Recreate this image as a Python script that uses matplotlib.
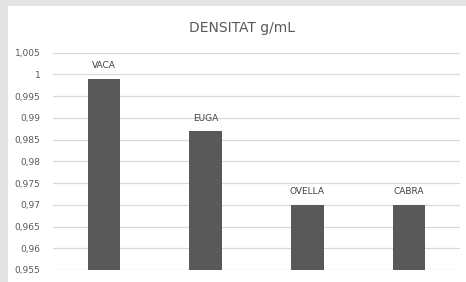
import matplotlib
matplotlib.use("Agg")
import matplotlib.pyplot as plt
from matplotlib.patches import Rectangle
from matplotlib.ticker import FuncFormatter

categories = ["VACA", "EUGA", "OVELLA", "CABRA"]
values = [0.999, 0.987, 0.970, 0.970]
yticks = [0.955, 0.96, 0.965, 0.97, 0.975, 0.98, 0.985, 0.99, 0.995, 1.0, 1.005]
title = "DENSITAT g/mL"

fig = plt.figure(figsize=(4.66, 2.82), dpi=100)
fig.patch.set_facecolor("#e3e3e3")
fig.patches.append(Rectangle((8/466, 0), 1 - 8/466, (282-6)/282, transform=fig.transFigure,
                             facecolor="white", edgecolor="none", zorder=-10))

ax = fig.add_axes([53/466, 12/282, 407/466, 217.3/282])
ax.set_facecolor("none")
x = list(range(len(categories)))
bars = ax.bar(x, values, width=0.32, color="#595959", zorder=3)
for xi, v, c in zip(x, values, categories):
    ax.annotate(c, (xi, v), xytext=(0, 6), textcoords="offset points",
                ha="center", va="bottom", fontsize=6.5, color="#404040")

ax.set_xlim(-0.5, len(categories) - 0.5)
ax.set_ylim(yticks[0], yticks[-1])
ax.set_yticks(yticks)

def fmt(v, pos):
    s = ("%.3f" % v).rstrip("0").rstrip(".")
    return s.replace(".", ",")

ax.yaxis.set_major_formatter(FuncFormatter(fmt))
ax.set_xticks([])
ax.tick_params(axis="y", length=0, pad=9, labelsize=6.5, labelcolor="#595959")
ax.grid(axis="y", color="#d9d9d9", linewidth=0.9, zorder=0)
for s in ax.spines.values():
    s.set_visible(False)

fig.text(242/466, 1 - 28/282, title, ha="center", va="center", fontsize=10, color="#595959")

fig.savefig("out.png", dpi=100)
